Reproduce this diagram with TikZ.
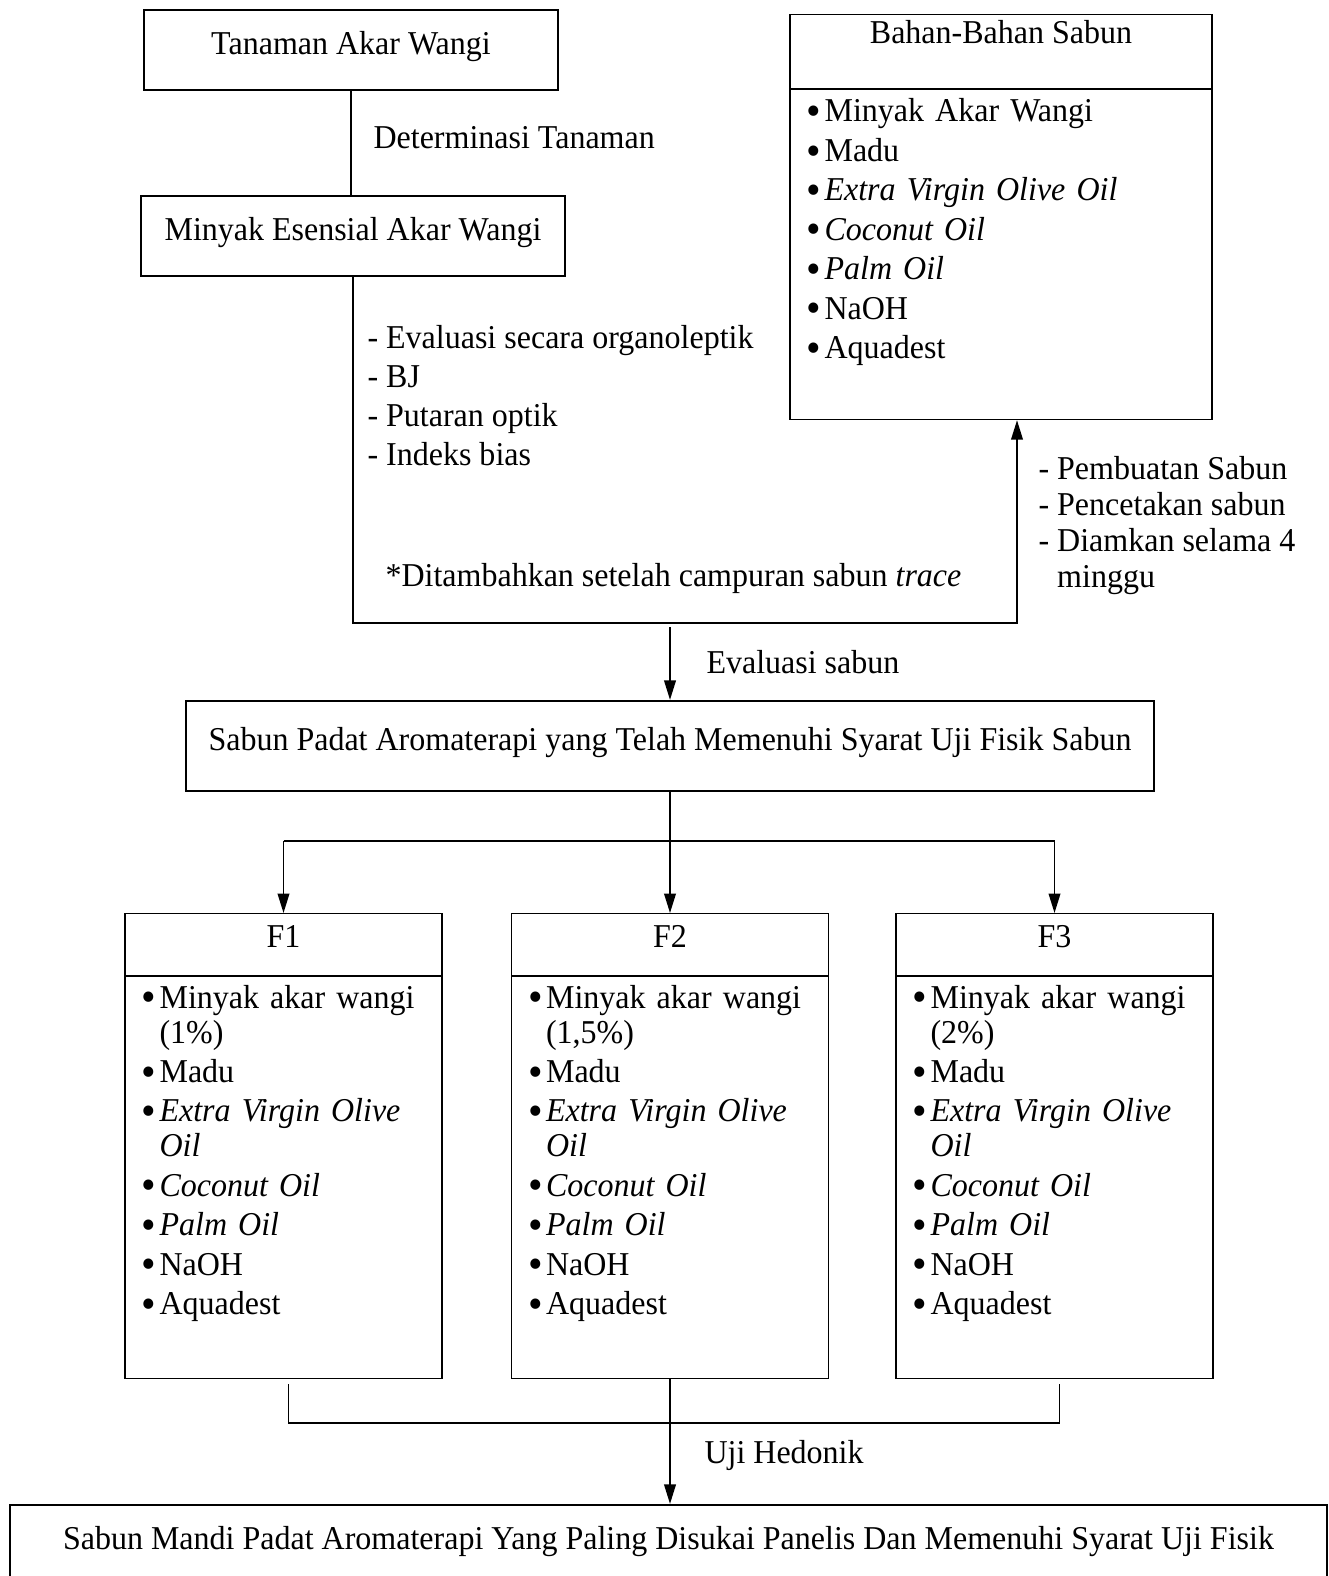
\documentclass[tikz,border=0pt]{standalone}
\usepackage{fontspec}
\setmainfont{Liberation Serif}[FakeStretch=0.96]
\usetikzlibrary{arrows.meta}
\newlength\px
\setlength\px{0.36pt}
\newcommand{\butir}[1]{\par\hangindent=18\px\hangafter=1\noindent\makebox[18\px][l]{\raisebox{-1.3pt}{\scalebox{1.3}{\textbullet}}}#1}

\begin{document}
\begin{tikzpicture}[x=0.36pt, y=-0.36pt,
            every node/.style={font=\fontsize{12}{14.04}\selectfont},
            box/.style={draw, line width=0.8pt, text height=8.5pt, text depth=5.4pt},
            head/.style={draw, line width=0.4pt, inner ysep=0pt},
            list/.style={draw, line width=0.4pt},
            lbl/.style={inner sep=0pt, anchor=west},
            items/.style={inner sep=0pt, anchor=north west, text width=#1, align=left,
                font=\fontsize{12}{12.6}\selectfont,
                execute at begin node={\setlength\parskip{1.6pt}}},
            conn/.style={line width=0.6pt},
            arr/.style={line width=0.6pt, -{Triangle[length=7pt,width=4.2pt]}}]
        \useasboundingbox (0,0) rectangle (1329,1576);

        \node[box, minimum width=414\px, minimum height=80\px] (tanaman) at (351,50) {Tanaman Akar Wangi};
        \node[box, minimum width=424\px, minimum height=80\px] (esensial) at (353,236) {Minyak Esensial Akar Wangi};
        \draw[conn] (tanaman.south) -- (tanaman.south |- esensial.north);
        \node[lbl] (determinasi) at (373,138) {Determinasi Tanaman};

        % bahan sabun
        \node[head, minimum width=422\px, minimum height=74\px, text height=29\px, text depth=45\px, anchor=north] (bahanhead) at (1001,14) {Bahan-Bahan Sabun};
        \node[list, minimum width=422\px, minimum height=330\px, anchor=north] (bahanlist) at (bahanhead.south) {};
        \node[items=390\px] (bahanisi) at (806,82) {\butir{Minyak Akar Wangi}\butir{Madu}\butir{\textit{Extra Virgin Olive Oil}}\butir{\textit{Coconut Oil}}\butir{\textit{Palm Oil}}\butir{NaOH}\butir{Aquadest}};

        \node[lbl, anchor=north west, align=left] (ujiminyak) at (367,325) {- Evaluasi secara organoleptik\\- BJ\\- Putaran optik\\- Indeks bias};
        \node[lbl] (catatan) at (385,578) {*Ditambahkan setelah campuran sabun \textit{trace}};
        \node[lbl, anchor=north west, align=left, font=\fontsize{12}{12.96}\selectfont] (pembuatan) at (1038,456) {- Pembuatan Sabun\\- Pencetakan sabun\\- Diamkan selama 4\\\phantom{- }minggu};

        \coordinate (belok) at (1017,623);
        \draw[arr] (esensial.south) |- (belok) -- (belok |- bahanlist.south);

        \node[box, minimum width=968\px, minimum height=90\px] (fisik) at (670,746) {Sabun Padat Aromaterapi yang Telah Memenuhi Syarat Uji Fisik Sabun};
        \draw[arr] ([yshift=-4\px]fisik.north |- belok) -- (fisik.north);
        \node[lbl] (evaluasi) at (706,662) {Evaluasi sabun};

        \draw[conn] (fisik.south) -- ++(0,49) coordinate (cabang);

        % formula F1 - F3
        \foreach \i/\cx/\persen in {1/283.5/1\%, 2/670/{1,5\%}, 3/1054.5/2\%} {
            \node[head, minimum width=317\px, minimum height=62\px, text height=34\px, text depth=28\px, anchor=north] (head\i) at (\cx,913) {F\i};
            \node[list, minimum width=317\px, minimum height=402\px, anchor=north] (list\i) at (head\i.south) {};
            \node[items=290\px] (isi\i) at (\cx-142.5,968) {\butir{Minyak akar wangi\newline(\persen)}\butir{Madu}\butir{\textit{Extra Virgin Olive\newline Oil}}\butir{\textit{Coconut Oil}}\butir{\textit{Palm Oil}}\butir{NaOH}\butir{Aquadest}};
            \draw[arr] (cabang -| head\i) -- (head\i.north);
        }
        \draw[conn] (cabang -| head1) -- (cabang -| head3);

        \draw[conn] ([shift={(5,5)}]list1.south) -- ++(0,39) coordinate (gabung) -| ([shift={(5,5)}]list3.south);

        \node[box, minimum width=1317\px, minimum height=80\px] (hasil) at (668.5,1545) {Sabun Mandi Padat Aromaterapi Yang Paling Disukai Panelis Dan Memenuhi Syarat Uji Fisik};
        \draw[arr] (list2.south) -- (list2.south |- hasil.north);
        \node[lbl] (hedonik) at (704,1455) {Uji Hedonik};
\end{tikzpicture}
\end{document}
